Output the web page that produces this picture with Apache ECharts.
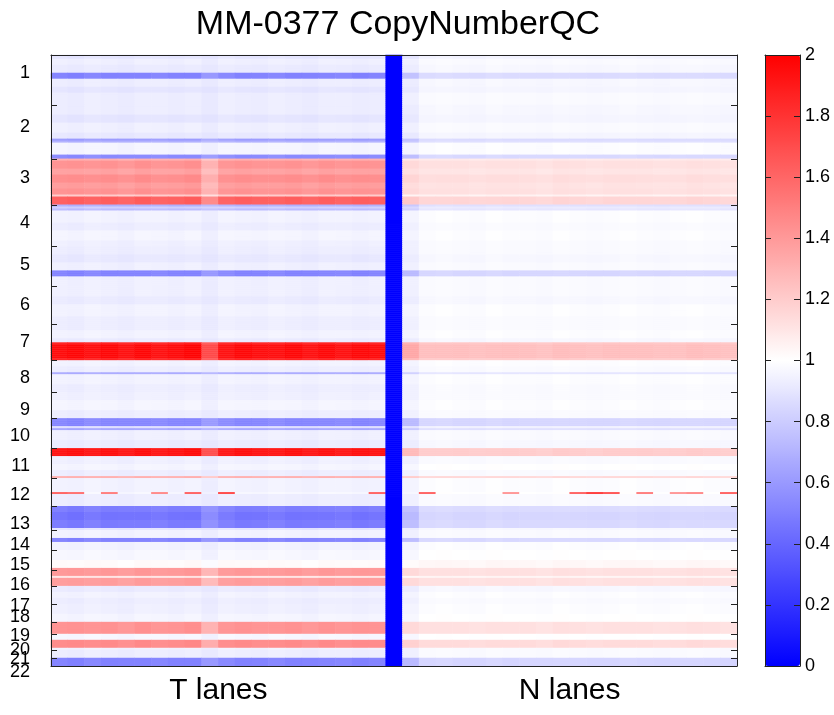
<!DOCTYPE html>
<html lang="en">
<head>
<meta charset="UTF-8">
<title>MM-0377 CopyNumberQC</title>
<script src="https://cdn.jsdelivr.net/npm/echarts@6/dist/echarts.min.js"></script>
</head>
<body style="margin:0;background:#fff">
<div id="main" style="width:834px;height:715px;"></div>
<script>
// chromosomes and their height in genome bins (rows)
var chromNames = ['1', '2', '3', '4', '5', '6', '7', '8', '9', '10', '11',
    '12', '13', '14', '15', '16', '17', '18', '19', '20', '21', '22'];
var chromRows = [25, 27, 23, 21, 20, 19, 18, 16, 13, 15, 15, 14, 12, 10, 10, 8, 9, 9, 6, 8, 4, 4];
// where the chromosome names sit on the row scale (as printed, they drift a bit)
var chromLabelRows = [9, 36, 61.5, 84, 105, 125, 144, 162, 178, 191, 206, 220.5, 235,
    245.5, 255.5, 265.5, 276, 281.5, 291, 298, 302.5, 309];

// copy number segments, per chromosome: [rows, T lanes ratio, N lanes ratio]
var segments = [
    [[2, .90, .95], [3, .94, .98], [4, .92, .97], [3, .52, .86], [4, .93, .97], [3, .90, .96], [6, .93, .98]],
    [[5, .93, .97], [4, .90, .96], [5, .94, .98], [3, .91, .96], [1, .62, .86], [1, .70, .88], [6, .96, .99], [2, .55, .85]],
    [[1, 1.30, 1.08], [4, 1.42, 1.12], [3, 1.36, 1.10], [4, 1.44, 1.13], [3, 1.38, 1.11], [3, 1.42, 1.12], [1, 1.20, 1.05], [4, 1.62, 1.16]],
    [[1, .70, .88], [1, .82, .92], [1, .74, .90], [6, .95, .99], [4, .93, .98], [5, .96, .99], [3, .94, .98]],
    [[4, .93, .98], [4, .91, .97], [4, .94, .98], [3, .52, .84], [5, .94, .98]],
    [[5, .94, .98], [4, .92, .97], [6, .95, .99], [4, .93, .98]],
    [[3, .93, .98], [4, .95, .99], [2, .92, .97], [1, 1.85, 1.22], [7, 1.95, 1.25], [1, 1.85, 1.20]],
    [[3, .95, .99], [3, .93, .98], [1, .68, .90], [5, .95, .99], [4, .93, .98]],
    [[4, .94, .98], [5, .96, .99], [4, .93, .98]],
    [[4, .53, .84], [1, .88, .95], [1, .66, .88], [5, .94, .98], [4, .92, .97]],
    [[4, 1.92, 1.20], [4, .94, .98], [3, .96, 1.0], [3, .93, .98], [1, 1.30, 1.15]],
    [[7, .95, .99], [1, .97, 1.0], [6, .93, .98]],
    [[3, .50, .86], [4, .46, .84], [4, .49, .85], [1, .90, .97]],
    [[4, .95, .98], [2, .52, .85], [4, .95, .99]],
    [[5, .97, 1.0], [4, 1.02, 1.03], [1, 1.40, 1.12]],
    [[3, 1.40, 1.12], [1, 1.10, 1.04], [4, 1.38, 1.12]],
    [[3, .92, .97], [3, .95, .99], [3, .93, .98]],
    [[5, .94, .99], [4, .96, 1.0]],
    [[6, 1.42, 1.12]],
    [[3, .97, 1.0], [4, 1.45, 1.14], [1, .95, .98]],
    [[4, .93, .98]],
    [[4, .52, .84]]
];

// per lane response (gain on the deviation from 1) and baseline shift
var tLaneGain = [1.00, 1.03, 0.98, 1.02, 0.99, 1.02, 0.98, 1.01, 1.03, 0.78, 0.97, 1.02, 1.00, 0.98, 1.02, 0.99, 1.01, 0.98, 1.02, 1.00];
var tLaneShift = [0, -.005, .005, 0, -.01, .005, 0, -.005, .005, -.03, .005, 0, -.005, .005, 0, -.01, .005, 0, -.005, 0];
var nLaneGain = [1.50, 1.00, 0.98, 1.02, 1.00, 0.98, 1.02, 1.00, 0.97, 1.02, 1.00, 0.99, 1.02, 0.98, 1.01, 1.00, 0.98, 1.02, 1.00, 0.99];
var nLaneShift = [-.03, 0, .005, 0, -.005, .005, 0, 0, -.005, .005, 0, -.005, 0, .005, 0, -.005, 0, .005, 0, -.005];
var separatorValue = 0;

// isolated outlier bins: [row, column, ratio]
var spots = [
    [219, 0, 1.6], [219, 1, 1.55], [219, 3, 1.5], [219, 6, 1.45], [219, 8, 1.6], [219, 10, 1.7], [219, 19, 1.6],
    [219, 22, 1.6], [219, 27, 1.4], [219, 31, 1.6], [219, 32, 1.75], [219, 33, 1.65], [219, 35, 1.5],
    [219, 37, 1.4], [219, 38, 1.45], [219, 40, 1.6]
];

var laneLabels = ['T lanes', 'N lanes'];

// ---- build the matrix
var nT = tLaneGain.length, nN = nLaneGain.length;
var nCols = nT + 1 + nN;
var rowT = [], rowN = [];
segments.forEach(function (chr) {
    chr.forEach(function (s) {
        for (var k = 0; k < s[0]; k++) { rowT.push(s[1]); rowN.push(s[2]); }
    });
});
var nRows = rowT.length;

var spotMap = {};
spots.forEach(function (s) { spotMap[s[0] + '_' + s[1]] = s[2]; });

var data = [];
for (var r = 0; r < nRows; r++) {
    for (var c = 0; c < nCols; c++) {
        var v;
        if (c < nT) v = 1 + (rowT[r] - 1) * tLaneGain[c] + tLaneShift[c];
        else if (c === nT) v = separatorValue;
        else v = 1 + (rowN[r] - 1) * nLaneGain[c - nT - 1] + nLaneShift[c - nT - 1];
        if (spotMap[r + '_' + c] !== undefined) v = spotMap[r + '_' + c];
        data.push([c, r, Math.max(0, Math.min(2, v))]);
    }
}

var rowCats = [], colCats = [];
for (var i = 0; i < nRows; i++) rowCats.push(String(i));
for (var j = 0; j < nCols; j++) colCats.push(String(j));

// chromosome boundaries (tick marks)
var bounds = [];
var acc = 0;
chromRows.forEach(function (n, k) {
    if (k > 0) bounds.push(acc);
    acc += n;
});
// odd and even chromosome names go on two label axes so the crowded ones all show
var labelName = {}, oddLabelRows = [], evenLabelRows = [];
chromLabelRows.forEach(function (p, k) {
    labelName[p] = chromNames[k];
    (k % 2 === 0 ? oddLabelRows : evenLabelRows).push(p);
});
var labelMax = nRows + 8; // label axis runs a little below the plot

var lanePos = [nT / 2, nT + 1 + nN / 2];
var laneName = {};
laneName[lanePos[0]] = laneLabels[0];
laneName[lanePos[1]] = laneLabels[1];

var frameLine = { show: true, onZero: false, lineStyle: { color: '#222', width: 1 } };

function chromLabelAxis(values) {
    return {
        type: 'value', gridIndex: 1, min: 0, max: labelMax, inverse: true, position: 'left',
        axisLine: { show: false }, axisTick: { show: false }, splitLine: { show: false },
        axisLabel: {
            customValues: values, margin: 21, hideOverlap: false,
            formatter: function (v) { return labelName[v] || ''; },
            fontFamily: 'Liberation Sans', fontSize: 18, color: '#000'
        }
    };
}

var chart = echarts.init(document.getElementById('main'));
var option = {
    backgroundColor: '#fff',
    animation: false,
    title: {
        text: 'MM-0377 CopyNumberQC',
        left: 393,
        top: 3,
        textAlign: 'center',
        textStyle: { fontFamily: 'Liberation Sans', fontSize: 34, fontWeight: 'normal', color: '#000' }
    },
    grid: [
        { left: 51, top: 55, width: 686, height: 611 },
        { left: 51, top: 55, width: 686, height: 611 * labelMax / nRows },
        { left: 765, top: 55, width: 35, height: 611 }
    ],
    xAxis: [
        { type: 'category', gridIndex: 0, data: colCats, show: false },
        {
            type: 'value', gridIndex: 0, min: 0, max: nCols, position: 'bottom', z: 5,
            axisLine: frameLine, axisTick: { show: false }, splitLine: { show: false },
            axisLabel: {
                customValues: lanePos, margin: 10,
                formatter: function (v) { return laneName[v] || ''; },
                fontFamily: 'Liberation Sans', fontSize: 30, color: '#000'
            }
        },
        {
            type: 'value', gridIndex: 0, min: 0, max: nCols, position: 'top', z: 5,
            axisLine: frameLine, axisTick: { show: false }, axisLabel: { show: false }, splitLine: { show: false }
        },
        { type: 'value', gridIndex: 1, min: 0, max: 1, show: false },
        {
            type: 'value', gridIndex: 2, min: 0, max: 1, position: 'bottom', z: 10,
            axisLine: frameLine, axisTick: { show: false }, axisLabel: { show: false }, splitLine: { show: false }
        },
        {
            type: 'value', gridIndex: 2, min: 0, max: 1, position: 'top', z: 10,
            axisLine: frameLine, axisTick: { show: false }, axisLabel: { show: false }, splitLine: { show: false }
        }
    ],
    yAxis: [
        { type: 'category', gridIndex: 0, data: rowCats, inverse: true, show: false },
        {
            type: 'value', gridIndex: 0, min: 0, max: nRows, inverse: true, position: 'left', z: 5,
            axisLine: frameLine, splitLine: { show: false }, axisLabel: { show: false },
            axisTick: { show: true, inside: true, length: 6, customValues: bounds, lineStyle: { color: '#222' } }
        },
        {
            type: 'value', gridIndex: 0, min: 0, max: nRows, inverse: true, position: 'right', z: 5,
            axisLine: frameLine, splitLine: { show: false }, axisLabel: { show: false },
            axisTick: { show: true, inside: true, length: 6, customValues: bounds, lineStyle: { color: '#222' } }
        },
        chromLabelAxis(oddLabelRows),
        chromLabelAxis(evenLabelRows),
        {
            type: 'value', gridIndex: 2, min: 0, max: 2, interval: 0.2, position: 'left', z: 10,
            axisLine: frameLine, splitLine: { show: false }, axisLabel: { show: false },
            axisTick: { show: true, inside: true, length: 6, lineStyle: { color: '#222' } }
        },
        {
            type: 'value', gridIndex: 2, min: 0, max: 2, interval: 0.2, position: 'right', z: 10,
            axisLine: frameLine, splitLine: { show: false },
            axisTick: { show: true, inside: true, length: 6, lineStyle: { color: '#222' } },
            axisLabel: { margin: 5, fontFamily: 'Liberation Sans', fontSize: 18, color: '#000' }
        }
    ],
    visualMap: {
        type: 'continuous',
        seriesIndex: 0,
        min: 0,
        max: 2,
        calculable: false,
        hoverLink: false,
        left: 765,
        top: 55,
        itemWidth: 35,
        itemHeight: 611,
        padding: 0,
        text: null,
        inRange: { color: ['#0000ff', '#ffffff', '#ff0000'] }
    },
    series: [{
        type: 'heatmap',
        xAxisIndex: 0,
        yAxisIndex: 0,
        data: data,
        progressive: 0,
        emphasis: { disabled: true },
        itemStyle: { borderWidth: 0 }
    }]
};
chart.setOption(option);
</script>
</body>
</html>
